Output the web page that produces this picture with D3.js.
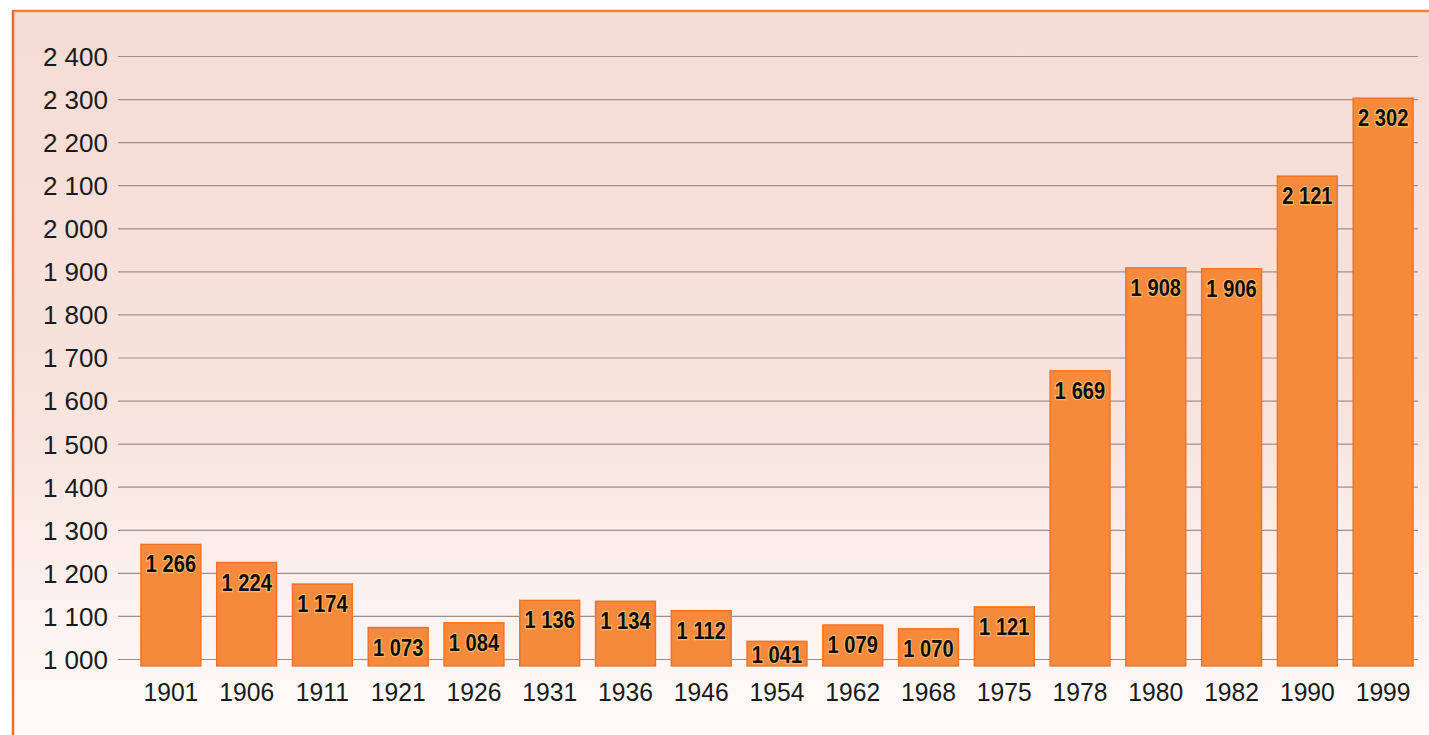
<!DOCTYPE html>
<html>
<head>
<meta charset="utf-8">
<script src="https://cdn.jsdelivr.net/npm/d3@7"></script>
<style>
  html, body { margin: 0; padding: 0; background: #fff; }
  svg { display: block; }
</style>
</head>
<body>
<svg id="chart"></svg>
<script>
// Data
const years = ["1901", "1906", "1911", "1921", "1926", "1931", "1936", "1946", "1954",
               "1962", "1968", "1975", "1978", "1980", "1982", "1990", "1999"];
const values = [1266, 1224, 1174, 1073, 1084, 1136, 1134, 1112, 1041,
                1079, 1070, 1121, 1669, 1908, 1906, 2121, 2302];
const yTicks = [1000, 1100, 1200, 1300, 1400, 1500, 1600, 1700, 1800, 1900,
                2000, 2100, 2200, 2300, 2400];
const barBase = 984; // bars run a little below the 1 000 line

const width = 1429, height = 735;

const svg = d3.select("#chart")
    .attr("width", width)
    .attr("height", height);

// background: pink paper fading to white at the bottom
const defs = svg.append("defs");
const grad = defs.append("linearGradient")
    .attr("id", "paper")
    .attr("x1", 0).attr("y1", 0).attr("x2", 0).attr("y2", 1);
grad.append("stop").attr("offset", "0%").attr("stop-color", "#f5dcd4");
grad.append("stop").attr("offset", "55%").attr("stop-color", "#f8e3dd");
grad.append("stop").attr("offset", "82%").attr("stop-color", "#fcf2ef");
grad.append("stop").attr("offset", "100%").attr("stop-color", "#fefbfa");

svg.append("rect")
    .attr("x", 13).attr("y", 11)
    .attr("width", width - 13).attr("height", height - 11)
    .attr("fill", "url(#paper)");

// orange frame (top and left)
svg.append("line")
    .attr("x1", 13).attr("x2", width).attr("y1", 11).attr("y2", 11)
    .attr("stroke", "#f4823a").attr("stroke-width", 2.5);
svg.append("line")
    .attr("x1", 13).attr("x2", 13).attr("y1", 10).attr("y2", height)
    .attr("stroke", "#f26a2a").attr("stroke-width", 2.5);

// Scales
const y = d3.scaleLinear()
    .domain([1000, 2400])
    .range([659, 56]);

const x = d3.scaleBand()
    .domain(years)
    .range([133, 1421])
    .paddingInner(0.21)
    .paddingOuter(0.105);

// y axis with gridlines
const yAxis = d3.axisLeft(y)
    .tickValues(yTicks)
    .tickSize(-1300)
    .tickPadding(10)
    .tickFormat(d => d3.format(",")(d).replace(",", " "));

const gy = svg.append("g")
    .attr("transform", "translate(118,0)")
    .call(yAxis);
gy.select(".domain").remove();
gy.selectAll(".tick line")
    .attr("stroke", "#9b8f8d")
    .attr("stroke-width", 1.2);
gy.selectAll(".tick text")
    .attr("fill", "#1a1a1a")
    .attr("font-family", "Liberation Sans, Arial, sans-serif")
    .attr("font-size", 26)
    .attr("dy", "0.36em");

// bars
svg.append("g")
    .selectAll("rect")
    .data(values)
    .enter()
    .append("rect")
    .attr("x", (d, i) => x(years[i]))
    .attr("y", d => y(d))
    .attr("width", x.bandwidth())
    .attr("height", d => y(barBase) - y(d))
    .attr("fill", "#f5893c")
    .attr("stroke", "#f27325")
    .attr("stroke-width", 1.5);

// value labels inside bars
svg.append("g")
    .selectAll("text")
    .data(values)
    .enter()
    .append("text")
    .attr("transform", (d, i) => {
        const cx = x(years[i]) + x.bandwidth() / 2;
        const by = Math.min(y(d) + 28, y(barBase) - 3);
        return "translate(" + cx + "," + by + ") scale(0.84,1)";
    })
    .attr("text-anchor", "middle")
    .attr("font-family", "Liberation Sans, Arial, sans-serif")
    .attr("font-weight", "bold")
    .attr("font-size", 24)
    .attr("fill", "#0d0d0d")
    .attr("stroke", "#f9b866")
    .attr("stroke-width", 2.5)
    .attr("paint-order", "stroke")
    .text(d => d3.format(",")(d).replace(",", " "));

// year labels
svg.append("g")
    .selectAll("text")
    .data(years)
    .enter()
    .append("text")
    .attr("transform", d => "translate(" + (x(d) + x.bandwidth() / 2) + ",701) scale(0.95,1)")
    .attr("text-anchor", "middle")
    .attr("font-family", "Liberation Sans, Arial, sans-serif")
    .attr("font-size", 26)
    .attr("fill", "#1a1a1a")
    .text(d => d);
</script>
</body>
</html>
